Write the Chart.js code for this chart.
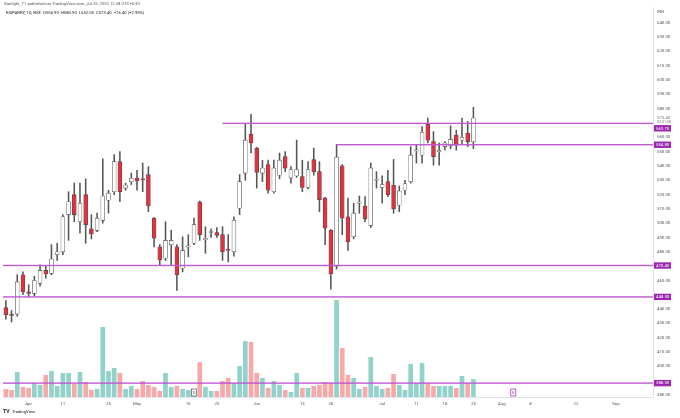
<!DOCTYPE html>
<html>
<head>
<meta charset="utf-8">
<script src="https://cdn.jsdelivr.net/npm/chart.js@4.4.0/dist/chart.umd.min.js"></script>
<style>
html, body { margin: 0; padding: 0; background: #fff; }
#wrap { width: 680px; height: 418px; position: relative; }
</style>
</head>
<body>
<div id="wrap"><canvas id="eidChart"></canvas></div>
<script>
// trading days shown on the chart (2022), then empty future slots
var tradeDays = [
  '03-28','03-29','03-30','03-31',
  '04-01','04-04','04-05','04-06','04-07','04-08','04-11','04-12','04-13','04-18','04-19','04-20','04-21','04-22','04-25','04-26','04-27','04-28','04-29',
  '05-02','05-04','05-05','05-06','05-09','05-10','05-11','05-12','05-13','05-16','05-17','05-18','05-19','05-20','05-23','05-24','05-25','05-26','05-27','05-30','05-31',
  '06-01','06-02','06-03','06-06','06-07','06-08','06-09','06-10','06-13','06-14','06-15','06-16','06-17','06-20','06-21','06-22','06-23','06-24','06-27','06-28','06-29','06-30',
  '07-01','07-04','07-05','07-06','07-07','07-08','07-11','07-12','07-13','07-14','07-15','07-18','07-19','07-20','07-21','07-22','07-25'
];
var futureDays = [
  '07-26','07-27','07-28','07-29',
  '08-01','08-02','08-03','08-04','08-05','08-08','08-10','08-11','08-12','08-16','08-17','08-18','08-19','08-22','08-23','08-24','08-25','08-26','08-29','08-30',
  '09-01','09-02','09-05','09-06','09-07','09-08','09-09'
];

var opens = [441,436.5,436.5,464,452,451,458,467,465,478,480,506,520,501,520,496,495,502,516,522,543,524.5,529,531.5,530.7,534,503.5,483.5,
  475.5,485,483.5,468.5,483.5,486,515,488.5,493.5,493.5,492,481.5,480,510.5,535,562,552.5,535,541,522,533.5,546.5,531.5,533,532.5,525,544.5,536,517.5,
  495,470,540,504.5,490.5,514,512,498.5,530,525,529,526.5,512.5,523,529,550.5,547.5,569,557,550,553.5,554,561.5,558,563,556.9];
var highs = [446,439,464,466,457,463,471,470,485,486,506,522,528,528,531,506,507,545,523,548,550,528,535,537,542,539.5,504,485,
  501,495,485,490.5,492,503.5,515.5,497.5,496,497,497.5,492,504.5,534,569,576,553,544,544,544,549,550,539.5,558,544,543,552.5,543,518,
  495.5,555,541,517.5,514,519,518.5,542,536,533,537,544.5,526,530,553.5,555,567.5,573.5,564,556,557,568,565,573.5,571,580.9];
var lows = [433,431,435,450,448.5,449,456,461.5,464,474,478,488,501,493,486,489,494,500,507,520,515,523,527,523,522,508,483.5,471,
  474,471,453,466,476.5,485,488,479,490,490,474,473,477,506,530,549,524.5,529,521,521,531,536,528,532,522,524,533.5,508,485,
  454,468,492,481,489,507,501,497,524.5,514,518.5,507,508,520,528,542,542,556,540.5,540.5,551,552,551,555.5,553.5,552.05];
var closes = [436,435.5,459,452,451,460,467,464.5,475,480,504.5,515,506,514,499,492.5,503.5,519,521,543,522,526.7,531.4,529.7,530.3,512,489.5,474.3,
  488,488,464,481,484,499,492,489.5,494,491.5,480,481,502,529,558,556,535.5,538.5,523,538.5,544,538.5,537.5,537.5,525,537.5,536,516.5,496.5,
  464.5,546,503.5,487,507,514.5,503,538.5,530.5,527,520,510,522.5,527.5,547.5,551,563.5,558,546.5,550.5,556,558.5,554.5,560,557,573.4];
// volume, thousand shares
var volumes = [80,70,250,100,90,140,120,220,260,110,240,240,130,250,150,70,80,700,260,290,240,80,110,80,160,120,100,60,
  240,100,110,80,70,70,350,100,60,60,160,190,140,310,560,550,240,190,90,160,120,70,50,240,90,90,110,120,150,
  140,970,490,220,190,80,100,400,110,80,90,230,120,70,330,140,340,140,110,110,110,110,90,210,140,180];

var priceTicks = [380,390,400,410,420,430,440,450,460,470,480,490,500,510,520,530,540,550,560,570,580,590,600,610,620,630,640];
var dateTicks = ['04-01','04-11','04-25','05-02','05-16','05-23','06-01','06-13','06-20','07-01','07-11','07-18','07-25','08-01','08-08','08-22','09-01'];
var dateTickText = ['Apr','11','25','May','16','23','Jun','13','20','Jul','11','18','25','Aug','8','22','Sep'];

var levels = [569.70, 554.80, 470.45, 448.50, 388.30];
var levelFrom = ['05-24', '06-21', '', '', ''];
var lastPrice = 573.40;
var eventDays = ['05-17', '08-03'];
var eventText = ['D', 'E'];

var allDays = tradeDays.concat(futureDays);
var upFill = '#ffffff', downFill = '#e2323f', edge = '#4a4a4a';
var volUp = 'rgba(38,166,154,0.5)', volDown = 'rgba(239,83,80,0.5)';
var purpleLine = 'rgb(190,90,210)', purpleBox = '#9c27b0';
var fontFam = 'Roboto, "DejaVu Sans", sans-serif';

var wicks = [], bodies = [], bodyColors = [], volColors = [];
for (var i = 0; i < opens.length; i++) {
  wicks.push([lows[i], highs[i]]);
  bodies.push([opens[i], closes[i]]);
  var up = closes[i] >= opens[i];
  bodyColors.push(up ? upFill : downFill);
  volColors.push(up ? volUp : volDown);
}

var overlay = {
  id: 'overlay',
  afterDatasetsDraw: function(chart) {
    var ctx = chart.ctx, a = chart.chartArea, xs = chart.scales.x, ys = chart.scales.y;
    ctx.save();
    for (var i = 0; i < levels.length; i++) {
      var py = ys.getPixelForValue(levels[i]);
      var x0 = levelFrom[i] ? xs.getPixelForValue(allDays.indexOf(levelFrom[i])) : a.left;
      ctx.fillStyle = purpleLine;
      ctx.fillRect(x0, py - 0.7, a.right - x0, 1.4);
    }
    // dividend / earnings markers
    ctx.font = '4px ' + fontFam;
    ctx.textAlign = 'center';
    ctx.textBaseline = 'middle';
    for (var j = 0; j < eventDays.length; j++) {
      var ex = xs.getPixelForValue(allDays.indexOf(eventDays[j]));
      var col = eventText[j] == 'E' ? purpleBox : '#50535e';
      ctx.fillStyle = '#fff';
      ctx.fillRect(ex - 2.5, a.bottom - 8, 5, 7);
      ctx.strokeStyle = col;
      ctx.lineWidth = 0.7;
      ctx.strokeRect(ex - 2.5, a.bottom - 8, 5, 7);
      ctx.fillStyle = col;
      ctx.fillText(eventText[j], ex, a.bottom - 4.4);
    }
    ctx.restore();
  },
  afterDraw: function(chart) {
    var ctx = chart.ctx, a = chart.chartArea, ys = chart.scales.y;
    ctx.save();
    ctx.textBaseline = 'middle';
    ctx.textAlign = 'left';
    // last price
    var lp = ys.getPixelForValue(lastPrice);
    ctx.font = '4.3px ' + fontFam;
    ctx.fillStyle = '#787b86';
    ctx.fillText(lastPrice.toFixed(2), a.right + 4, lp);
    ctx.font = '3.6px ' + fontFam;
    ctx.fillText('03:01:58', a.right + 4, lp + 3.6);
    var minY = lp + 7;
    // level labels
    ctx.font = '4.3px ' + fontFam;
    for (var i = 0; i < levels.length; i++) {
      var py = ys.getPixelForValue(levels[i]);
      if (py - 3.2 < minY && py > lp) py = minY + 3.2;
      ctx.fillStyle = purpleBox;
      ctx.fillRect(a.right + 1, py - 3.2, 17, 6.4);
      ctx.fillStyle = '#fff';
      ctx.fillText(levels[i].toFixed(2), a.right + 3, py + 0.2);
    }
    ctx.fillStyle = '#50535e';
    ctx.fillText('INR', a.right + 4, 12);
    // header
    ctx.font = '4.2px ' + fontFam;
    ctx.fillStyle = '#50535e';
    ctx.fillText('Starlight_T1 published on TradingView.com, Jul 25, 2022 12:28 UTC+5:30', 4, 4);
    ctx.fillStyle = '#131722';
    ctx.fillText('EIDPARRY, 1D, NSE  O556.90  H580.90  L552.05  C573.40  +16.40 (+2.95%)', 6, 13);
    // footer logo
    ctx.font = 'bold 5px ' + fontFam;
    ctx.fillText('TV', 3, 412);
    ctx.font = '4.2px ' + fontFam;
    ctx.fillText('TradingView', 12, 412);
    ctx.restore();
  }
};

var eidchart = document.getElementById('eidChart');

let eidChart = new Chart(eidchart, {
  type: 'bar',
  data: {
    labels: allDays,
    datasets: [
      {
        label: 'Volume',
        data: volumes,
        yAxisID: 'yv',
        backgroundColor: volColors,
        borderWidth: 0,
        grouped: false,
        categoryPercentage: 1,
        barPercentage: 0.82,
        order: 3
      },
      {
        label: 'Wick',
        data: wicks,
        backgroundColor: '#555',
        borderWidth: 0,
        grouped: false,
        barThickness: 0.9,
        order: 2
      },
      {
        label: 'Body',
        data: bodies,
        backgroundColor: bodyColors,
        borderColor: edge,
        borderWidth: 0.6,
        borderSkipped: false,
        grouped: false,
        barThickness: 3.9,
        minBarLength: 1,
        order: 1
      }
    ]
  },
  options: {
    responsive: true,
    maintainAspectRatio: false,
    animation: false,
    events: [],
    layout: { padding: { left: 3, top: 7, right: 0, bottom: 0 } },
    plugins: { legend: { display: false }, tooltip: { enabled: false } },
    scales: {
      x: {
        grid: { display: false, drawTicks: false },
        border: { display: true, color: '#e0e3eb' },
        ticks: {
          autoSkip: false,
          maxRotation: 0,
          padding: 4,
          color: '#50535e',
          font: { size: 4.3, family: fontFam },
          callback: function(value, index) {
            var k = dateTicks.indexOf(allDays[index]);
            return k >= 0 ? dateTickText[k] : '';
          }
        },
        afterFit: function(scale) { scale.height = 21; }
      },
      y: {
        position: 'right',
        min: 378.6,
        max: 651,
        grid: { display: false, drawTicks: false },
        border: { display: true, color: '#e0e3eb' },
        afterBuildTicks: function(scale) {
          scale.ticks = priceTicks.map(function(v) { return { value: v }; });
        },
        ticks: {
          padding: 4,
          color: '#50535e',
          font: { size: 4.3, family: fontFam },
          callback: function(value) {
            for (var i = 0; i < levels.length; i++) {
              if (Math.abs(levels[i] - value) < 3) return '';
            }
            return value.toFixed(2);
          }
        },
        afterFit: function(scale) { scale.width = 27; }
      },
      yv: {
        display: false,
        min: 0,
        max: 3900
      }
    }
  },
  plugins: [overlay]
});
</script>
</body>
</html>
